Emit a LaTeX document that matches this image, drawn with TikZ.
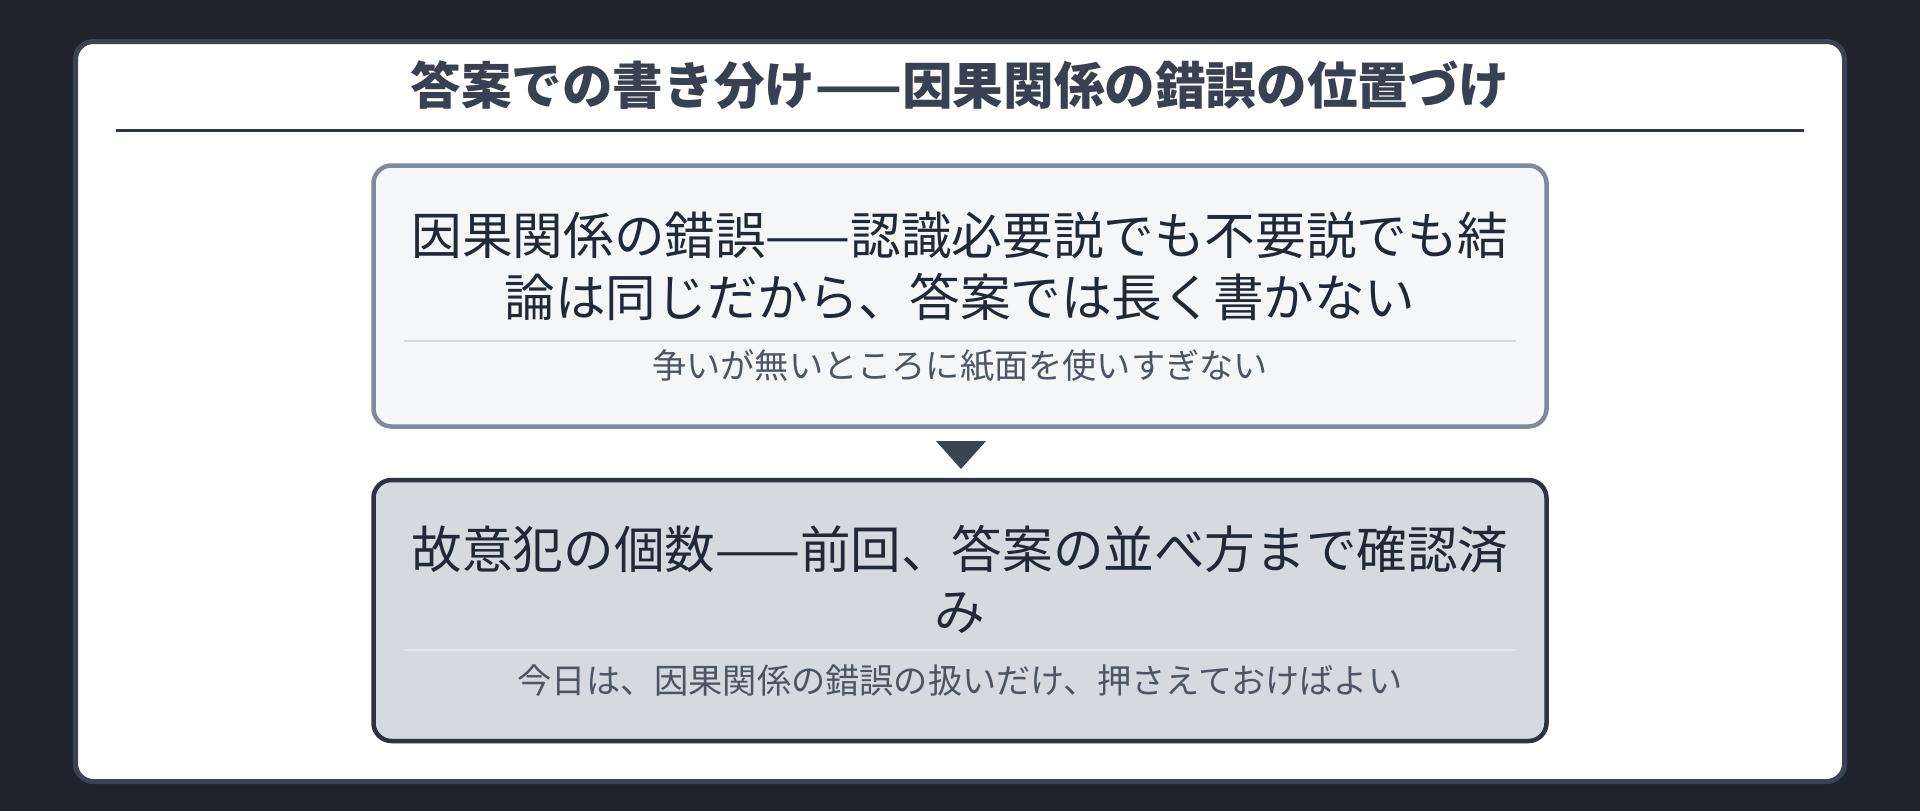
\documentclass[tikz,border=0pt]{standalone}
\usepackage{fontspec}
\setmainfont{Noto Sans CJK JP}
\usetikzlibrary{positioning}

\definecolor{pagebg}{HTML}{1E232D}
\definecolor{cardline}{HTML}{3B4453}
\definecolor{titletext}{HTML}{374151}
\definecolor{ruledark}{HTML}{2D3440}
\definecolor{boxaline}{HTML}{818A98}
\definecolor{boxafill}{HTML}{F5F6F8}
\definecolor{boxbline}{HTML}{2D3440}
\definecolor{boxbfill}{HTML}{D5D9E0}
\definecolor{maintext}{HTML}{1F2937}
\definecolor{subtext}{HTML}{4B5563}

\tikzset{
  card/.style={draw=cardline, line width=5pt, fill=white, rounded corners=18pt},
  stagebox/.style={line width=4.5pt, rounded corners=18pt, minimum width=1173pt, minimum height=261pt},
  mainline/.style={text=maintext, align=center, font=\fontsize{50.6}{62}\selectfont},
  subline/.style={text=subtext, font=\fontsize{34.2}{40}\selectfont},
}

\begin{document}
\begin{tikzpicture}[x=1pt,y=-1pt]
  \fill[pagebg] (0,0) rectangle (1920,811);
  \node[card, minimum width=1769pt, minimum height=740pt] (card) at (960,411.5) {};
  \node[text=titletext, font=\fontsize{50.6}{60}\selectfont\bfseries] (title) at (960,85) {答案での書き分け——因果関係の錯誤の位置づけ};
  \draw[ruledark, line width=3pt] (116,130) -- (1804,130);

  \node[stagebox, draw=boxaline, fill=boxafill] (prev) at (960,296) {};
  \node[mainline] (prevmain) at (960,266) {因果関係の錯誤——認識必要説でも不要説でも結\\論は同じだから、答案では長く書かない};
  \draw[draw=black!15, line width=2pt] (404,341) -- (1516,341);
  \node[subline] (prevsub) at (960,366) {争いが無いところに紙面を使いすぎない};

  \fill[cardline] (936,441) -- (986,441) -- (961,469) -- cycle;

  \node[stagebox, draw=boxbline, fill=boxbfill] (next) at (960,610.5) {};
  \node[mainline] (nextmain) at (960,579) {故意犯の個数——前回、答案の並べ方まで確認済\\み};
  \draw[draw=white!30!boxbfill, line width=2pt] (404,650) -- (1516,650);
  \node[subline] (nextsub) at (960,681) {今日は、因果関係の錯誤の扱いだけ、押さえておけばよい};
\end{tikzpicture}
\end{document}
